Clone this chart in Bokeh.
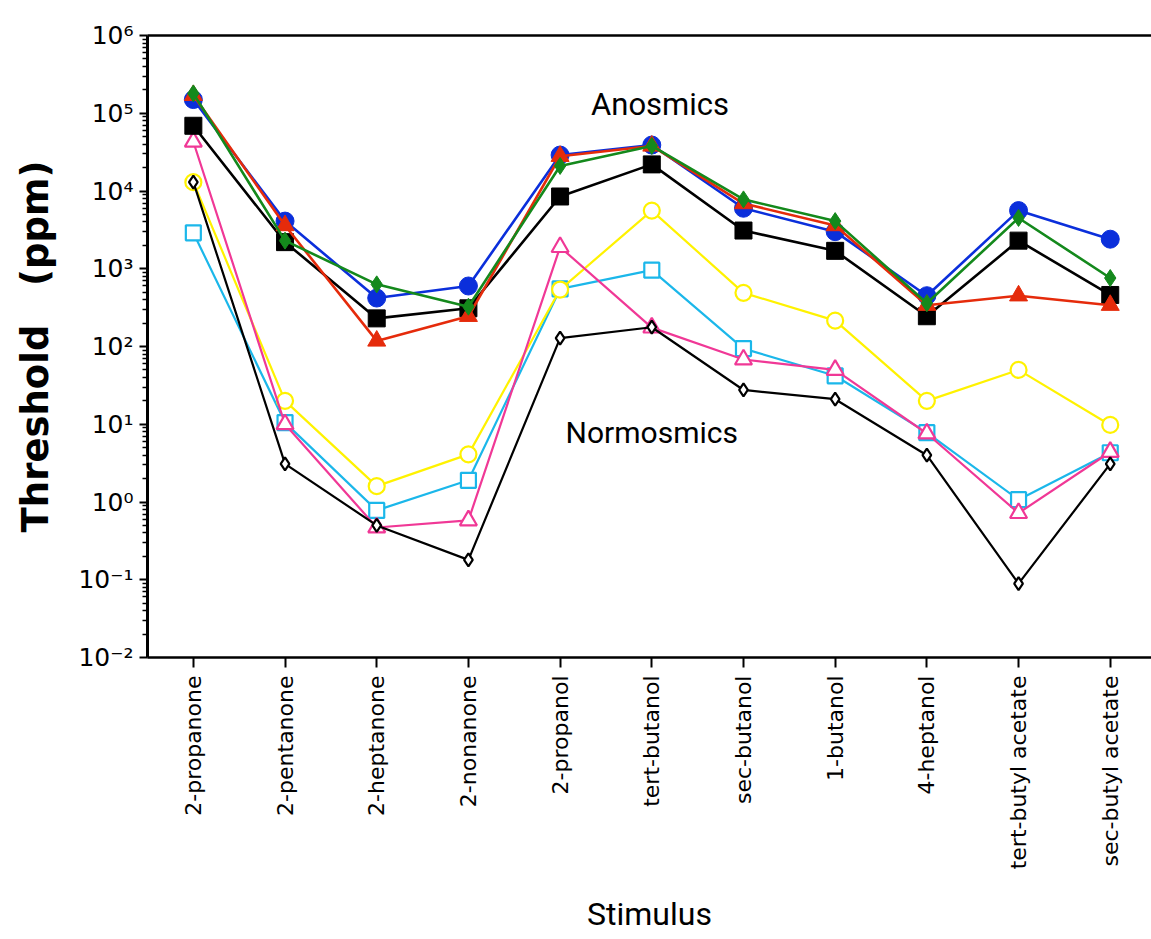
import numpy as np
from bokeh.plotting import figure
from bokeh.models import FixedTicker, CustomJSTickFormatter, Label, LinearAxis, Range1d
from bokeh.embed import file_html
from bokeh.resources import INLINE

categories = ["2-propanone", "2-pentanone", "2-heptanone", "2-nonanone", "2-propanol",
              "tert-butanol", "sec-butanol", "1-butanol", "4-heptanol",
              "tert-butyl acetate", "sec-butyl acetate"]

# Anosmics (filled markers)
anos_blue = [1.5e5, 4.1e3, 420, 600, 2.9e4, 3.9e4, 6.0e3, 3.0e3, 450, 5.6e3, 2.4e3]
anos_red = [1.7e5, 3.6e3, 118, 245, 2.8e4, 3.8e4, 6.9e3, 3.6e3, 340, 450, 340]
anos_green = [1.8e5, 2.3e3, 630, 325, 2.1e4, 3.8e4, 7.8e3, 4.1e3, 360, 4.5e3, 760]
anos_black = [6.9e4, 2.2e3, 230, 310, 8.5e3, 2.2e4, 3.1e3, 1.7e3, 245, 2.3e3, 460]

# Normosmics (open markers)
norm_yellow = [1.3e4, 20, 1.6, 4.1, 540, 5.6e3, 490, 215, 20, 50, 9.8]
norm_cyan = [2.9e3, 10.5, 0.78, 1.9, 550, 960, 94, 42, 7.8, 1.07, 4.3]
norm_pink = [4.3e4, 10, 0.47, 0.58, 1.9e3, 175, 68, 50, 7.6, 0.72, 4.4]
norm_black = [1.3e4, 3.1, 0.50, 0.18, 128, 177, 27.6, 21, 4.0, 0.089, 3.1]

decades = list(range(-2, 7))

xs = list(range(len(categories)))

p = figure(width=1151, height=936, y_axis_type="log",
           x_range=Range1d(-0.5, 10.45), y_range=Range1d(1e-2, 1e6),
           output_backend="svg", toolbar_location=None,
           min_border_left=147, min_border_top=35, min_border_right=0,
           min_border_bottom=278)
p.outline_line_color = None
p.grid.visible = False
p.background_fill_color = "white"
p.border_fill_color = "white"

BLUE = "#0b2fdb"
RED = "#e52b0b"
GREEN = "#14891c"
YELLOW = "#fff200"
CYAN = "#1bb7ea"
PINK = "#f03896"

# normosmics
p.line(xs, norm_cyan, line_color=CYAN, line_width=2.2)
p.scatter(xs, norm_cyan, marker="square", size=15, line_color=CYAN, fill_color="white", line_width=2.2)
p.line(xs, norm_yellow, line_color=YELLOW, line_width=2.2)
p.scatter(xs, norm_yellow, marker="circle", size=16, line_color=YELLOW, fill_color="white", line_width=2.2)
p.line(xs, norm_pink, line_color=PINK, line_width=2.2)
p.scatter(xs, norm_pink, marker="triangle", size=17, line_color=PINK, fill_color="white", line_width=2.2)
p.line(xs, norm_black, line_color="black", line_width=2.2)
p.scatter(xs, norm_black, marker="diamond", size=13, line_color="black", fill_color="white", line_width=2.2)

# anosmics
p.line(xs, anos_black, line_color="black", line_width=2.6)
p.scatter(xs, anos_black, marker="square", size=17, line_color="black", fill_color="black")
p.line(xs, anos_blue, line_color=BLUE, line_width=2.6)
p.scatter(xs, anos_blue, marker="circle", size=18, line_color=BLUE, fill_color=BLUE)
p.line(xs, anos_red, line_color=RED, line_width=2.6)
p.scatter(xs, anos_red, marker="triangle", size=18, line_color=RED, fill_color=RED)
p.line(xs, anos_green, line_color=GREEN, line_width=2.6)
p.scatter(xs, anos_green, marker="diamond", size=17, line_color=GREEN, fill_color=GREEN)

# text annotations
p.add_layout(Label(x=5.09, y=1.3e5, text="Anosmics", text_align="center", text_baseline="middle",
                   text_font="Roboto", text_font_size="31px", text_color="black"))
p.add_layout(Label(x=5.0, y=7.8, text="Normosmics", text_align="center", text_baseline="middle",
                   text_font="Roboto", text_font_size="30px", text_color="black"))

# x axis
xa = p.xaxis[0]
xa.ticker = FixedTicker(ticks=xs)
xa.major_label_overrides = {i: c for i, c in enumerate(categories)}
xa.major_label_orientation = np.pi / 2
xa.major_label_text_font = "DejaVu Sans"
xa.major_label_text_font_size = "22px"
xa.major_label_text_color = "black"
xa.major_label_standoff = 8
xa.major_tick_in = 0
xa.major_tick_out = 10
xa.major_tick_line_width = 2
xa.minor_tick_line_color = None
xa.axis_line_width = 2.5
xa.axis_line_color = "black"
xa.axis_label = "Stimulus"
xa.axis_label_text_font = "Roboto"
xa.axis_label_text_font_size = "32px"
xa.axis_label_text_font_style = "normal"
xa.axis_label_text_color = "black"
xa.axis_label_standoff = 23

# y axis
ya = p.yaxis[0]
minor = [m * 10.0 ** e for e in decades[:-1] for m in range(2, 10)]
ya.ticker = FixedTicker(ticks=[10.0 ** e for e in decades], minor_ticks=minor)
ya.formatter = CustomJSTickFormatter(code="""
const sup = {"0":"\u2070","1":"\u00b9","2":"\u00b2","3":"\u00b3","4":"\u2074","5":"\u2075","6":"\u2076","7":"\u2077","8":"\u2078","9":"\u2079","-":"\u207b"};
const e = Math.round(Math.log10(tick));
return "10" + String(e).split("").map(c => sup[c]).join("");
""")
ya.major_label_text_font = "DejaVu Sans"
ya.major_label_text_font_size = "25px"
ya.major_label_text_color = "black"
ya.major_label_standoff = 6
ya.major_tick_in = 0
ya.major_tick_out = 8
ya.major_tick_line_width = 2
ya.minor_tick_in = 0
ya.minor_tick_out = 5
ya.minor_tick_line_width = 1.5
ya.axis_line_width = 3
ya.axis_line_color = "black"
ya.axis_label = "Threshold\u00a0\u00a0\u00a0(ppm)"
ya.axis_label_text_font = "DejaVu Sans"
ya.axis_label_text_font_size = "37px"
ya.axis_label_text_font_style = "bold"
ya.axis_label_text_color = "black"
ya.axis_label_standoff = 18

# top frame line
top = LinearAxis(major_tick_line_color=None, minor_tick_line_color=None,
                 major_label_text_font_size="0px", axis_line_width=2.5, axis_line_color="black")
top.ticker = FixedTicker(ticks=[])
p.add_layout(top, "above")

open("out.html", "w").write(file_html(p, INLINE))
